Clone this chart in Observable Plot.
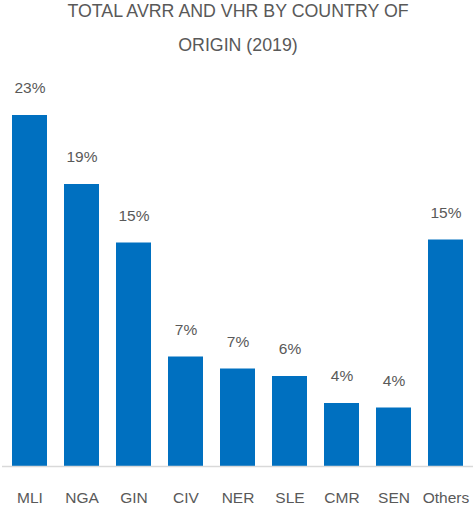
<!DOCTYPE html>
<html>
<head>
<meta charset="utf-8">
<script src="https://cdn.jsdelivr.net/npm/d3@7"></script>
<script src="https://cdn.jsdelivr.net/npm/@observablehq/plot@0.6"></script>
<style>
  html, body { margin: 0; padding: 0; background: #fff; }
  body { width: 476px; height: 505px; overflow: hidden; font-family: "Liberation Sans", Arial, sans-serif; }
  #titlewrap { height: 62px; overflow: visible; }
  #title { text-align: center; color: #595959; font-size: 17.8px; line-height: 34px; position: relative; top: -6px; }
  #chart svg { display: block; }
</style>
</head>
<body>
<div id="titlewrap"><div id="title">TOTAL AVRR AND VHR BY COUNTRY OF<br>ORIGIN (2019)</div></div>
<div id="chart"></div>
<script>
const countries = ["MLI", "NGA", "GIN", "CIV", "NER", "SLE", "CMR", "SEN", "Others"];
const shares = [23.4, 18.8, 14.9, 7.3, 6.5, 6.0, 4.2, 3.9, 15.1];
const labels = ["23%", "19%", "15%", "7%", "7%", "6%", "4%", "4%", "15%"];

const data = countries.map((c, i) => ({country: c, value: shares[i], label: labels[i]}));

const chart = Plot.plot({
  width: 476,
  height: 443,
  marginLeft: 2,
  marginRight: 3,
  marginTop: 29,
  marginBottom: 39,
  style: {fontFamily: "'Liberation Sans', Arial, sans-serif", fontSize: "15.5px", color: "#595959", background: "#fff"},
  x: {domain: countries, paddingInner: 0.33, paddingOuter: 0.165, label: null, tickSize: 0, tickPadding: 25},
  y: {domain: [0, 25], axis: null},
  marks: [
    Plot.barY(data, {x: "country", y: "value", fill: "#0070c0"}),
    Plot.ruleY([0], {stroke: "#d9d9d9", strokeWidth: 1.5}),
    Plot.text(data, {x: "country", y: "value", text: "label", dy: -27, fill: "#595959", fontSize: 15.5})
  ]
});
document.getElementById("chart").appendChild(chart);
</script>
</body>
</html>
